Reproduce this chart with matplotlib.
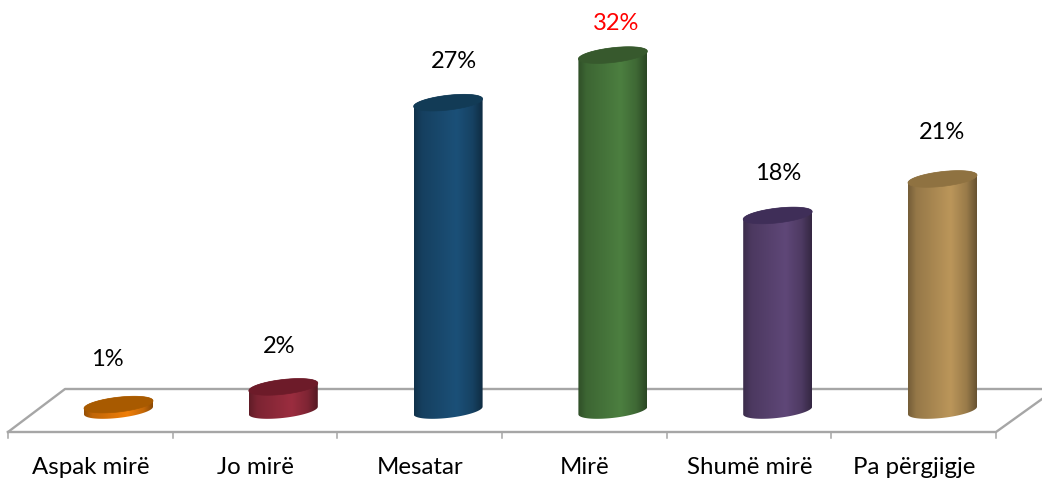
import numpy as np
import matplotlib
matplotlib.use("Agg")
import matplotlib.pyplot as plt
from matplotlib.colors import to_rgb
from matplotlib.patches import PathPatch, Polygon
from matplotlib.path import Path

categories = ["Aspak mirë", "Jo mirë", "Mesatar", "Mirë", "Shumë mirë", "Pa përgjigje"]
values = [0.4, 2.0, 27.7, 32.0, 17.5, 20.8]
labels = ["1%", "2%", "27%", "32%", "18%", "21%"]
label_colors = ["black", "black", "black", "red", "black", "black"]
side_colors = ["#F07F09", "#9B2D3F", "#1B5078", "#4C7F40", "#5F4778", "#BB965A"]
top_colors = ["#A85A00", "#6D1B29", "#123B56", "#37592D", "#3F2E58", "#8F7241"]
# label offsets from the bar top, in pixels (the labels were moved by hand in the original)
label_dx = [-11, -4, 6, 3, 0, 0]
label_dy = [45, 40, 41, 32, 42, 46]

plt.rcParams["font.family"] = ["Lato", "DejaVu Sans"]

W, H = 1042, 487
fig = plt.figure(figsize=(W / 100, H / 100), dpi=100)

# pixel-sized layer for the floor of the 3d box
bg = fig.add_axes([0, 0, 1, 1])
bg.set_xlim(0, W)
bg.set_ylim(H, 0)
bg.axis("off")

grey = "#A6A6A6"
bg.plot([8, 65, 1042], [432, 389, 389], color=grey, lw=1.7, zorder=1)
bg.plot([8, 996, 1042], [432, 432, 399], color=grey, lw=1.7, zorder=1)
for tx in np.linspace(8, 996, 7):
    bg.plot([tx, tx], [432, 438], color=grey, lw=1.1, zorder=1)
for i, c in enumerate(categories):
    bg.text(90.5 + 164.7 * i, 468, c, ha="center", va="center", fontsize=17.3, color="black")

# data layer: x is the category index, y is the percent value
px_per_x = 164.8
px_per_y = 11.06
base_px = 409
x0_px = 118.5
ax = fig.add_axes([0, 0, 1, 1])
ax.patch.set_alpha(0)
xlim = (-x0_px / px_per_x, (W - x0_px) / px_per_x)
ylim = ((base_px - H) / px_per_y, base_px / px_per_y)
ax.axis("off")

half_w = 34.5 / px_per_x
t = np.linspace(0, 2 * np.pi, 121)


def rim(cx, v, tt):
    xs = cx + half_w * np.cos(tt)
    ys = v + (3.8 * np.cos(tt) + 7.4 * np.sin(tt)) / px_per_y
    return np.column_stack([xs, ys])


profile = np.interp(np.linspace(0, 1, 200), [0, 0.12, 0.62, 0.85, 1], [0.62, 0.8, 1.0, 0.82, 0.55])

for i, v in enumerate(values):
    side = np.array(to_rgb(side_colors[i]))
    # body: lower arc of the foot, then upper arc of the top
    lower = rim(i, -1.5 / px_per_y, np.linspace(np.pi, 2 * np.pi, 60))
    upper = rim(i, v, np.linspace(0, np.pi, 60))
    body = np.vstack([lower, upper])
    im = ax.imshow(
        (profile[None, :, None] * side[None, None, :]).clip(0, 1),
        extent=[i - half_w, i + half_w, -2, v + 2],
        aspect="auto", zorder=3, interpolation="bilinear",
    )
    clip = PathPatch(Path(body), transform=ax.transData, fc="none", ec="none")
    ax.add_patch(clip)
    im.set_clip_path(clip)
    ax.add_patch(Polygon(rim(i, v, t), closed=True, fc=top_colors[i], ec=top_colors[i], lw=0.5, zorder=4))
    ax.annotate(labels[i], (i, v), xytext=(label_dx[i], label_dy[i]), textcoords="offset pixels",
                ha="center", va="center", fontsize=17, color=label_colors[i], zorder=5)

ax.set_xlim(*xlim)
ax.set_ylim(*ylim)

fig.savefig("out.png", dpi=100)
